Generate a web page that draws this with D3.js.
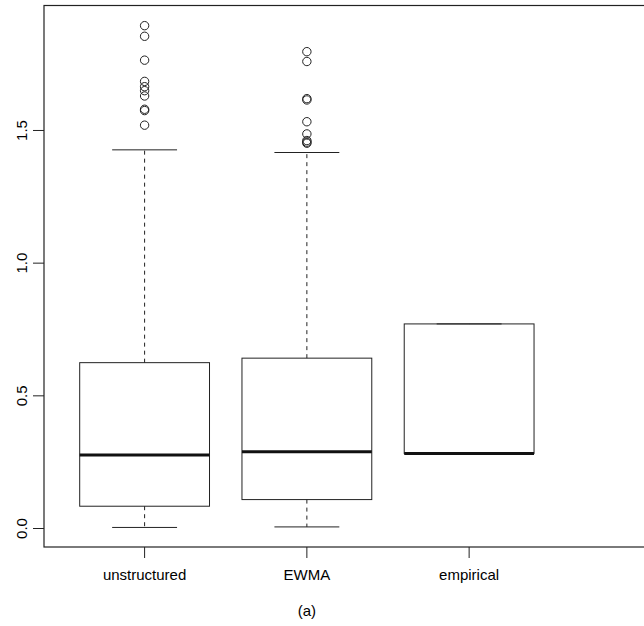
<!DOCTYPE html>
<html lang="en">
<head>
<meta charset="UTF-8">
<title>Boxplot</title>
<script src="https://cdn.jsdelivr.net/npm/d3@7"></script>
<style>
	body{ margin:0; background:#fff; }
	text{ font-family:"Liberation Sans", Arial, sans-serif; fill:#000; }
</style>
</head>
<body>
<svg></svg>
<script>
// categories and box statistics
var categories = ["unstructured", "EWMA", "empirical"];
var whiskerLow = [0.004, 0.006, 0.283];
var q1 = [0.084, 0.109, 0.283];
var medians = [0.277, 0.289, 0.283];
var q3 = [0.625, 0.642, 0.771];
var whiskerHigh = [1.427, 1.417, 0.771];
var outliers = [
	[1.895, 1.855, 1.765, 1.685, 1.665, 1.65, 1.63, 1.58, 1.575, 1.52],
	[1.797, 1.76, 1.62, 1.615, 1.533, 1.487, 1.462, 1.456, 1.452],
	[]
];
var yTicks = [0, 0.5, 1.0, 1.5];
var caption = "(a)";

var w = 644, h = 626;
var svg = d3.select("svg").attr("width", w).attr("height", h);

// plot region continues past the right edge of the picture
var x = d3.scaleLinear().domain([0.38, 4.62]).range([44, 732]);
var y = d3.scaleLinear().domain([-0.0697, 1.971]).range([547, 5.5]);

var boxW = 0.4, capW = 0.2;

svg.append("rect")
	.attr("x", x(0.38)).attr("y", y(1.971))
	.attr("width", x(4.62) - x(0.38)).attr("height", y(-0.0697) - y(1.971))
	.attr("fill", "none").attr("stroke", "#222").attr("stroke-width", 1.2);

// y axis
var yAxis = svg.append("g").attr("transform", "translate(44,0)");
yAxis.selectAll("line").data(yTicks).enter().append("line")
	.attr("x1", -11).attr("x2", 0)
	.attr("y1", d => y(d)).attr("y2", d => y(d))
	.attr("stroke", "#222");
yAxis.selectAll("text").data(yTicks).enter().append("text")
	.attr("transform", d => "translate(-17," + y(d) + ") rotate(-90)")
	.attr("text-anchor", "middle")
	.style("font-size", "15px")
	.text(d => d.toFixed(1));

// x axis
var xAxis = svg.append("g").attr("transform", "translate(0,547)");
xAxis.selectAll("line").data(categories).enter().append("line")
	.attr("x1", (d, i) => x(i + 1)).attr("x2", (d, i) => x(i + 1))
	.attr("y1", 0).attr("y2", 11)
	.attr("stroke", "#222");
xAxis.selectAll("text").data(categories).enter().append("text")
	.attr("x", (d, i) => x(i + 1)).attr("y", 33)
	.attr("text-anchor", "middle")
	.style("font-size", "15px")
	.text(d => d);

svg.append("text")
	.attr("x", x(2)).attr("y", 616)
	.attr("text-anchor", "middle")
	.style("font-size", "15px")
	.text(caption);

var g = svg.selectAll("g.box").data(categories).enter().append("g").attr("class", "box");

// whiskers
g.append("line")
	.attr("x1", (d, i) => x(i + 1)).attr("x2", (d, i) => x(i + 1))
	.attr("y1", (d, i) => y(q3[i])).attr("y2", (d, i) => y(whiskerHigh[i]))
	.attr("stroke", "#222").attr("stroke-dasharray", "4,4");
g.append("line")
	.attr("x1", (d, i) => x(i + 1)).attr("x2", (d, i) => x(i + 1))
	.attr("y1", (d, i) => y(q1[i])).attr("y2", (d, i) => y(whiskerLow[i]))
	.attr("stroke", "#222").attr("stroke-dasharray", "4,4");
[whiskerLow, whiskerHigh].forEach(arr => {
	g.append("line")
		.attr("x1", (d, i) => x(i + 1 - capW)).attr("x2", (d, i) => x(i + 1 + capW))
		.attr("y1", (d, i) => y(arr[i])).attr("y2", (d, i) => y(arr[i]))
		.attr("stroke", "#222");
});

// boxes
g.append("rect")
	.attr("x", (d, i) => x(i + 1 - boxW))
	.attr("width", x(1 + boxW) - x(1 - boxW))
	.attr("y", (d, i) => y(q3[i]))
	.attr("height", (d, i) => y(q1[i]) - y(q3[i]))
	.attr("fill", "none").attr("stroke", "#222");
g.append("line")
	.attr("x1", (d, i) => x(i + 1 - boxW)).attr("x2", (d, i) => x(i + 1 + boxW))
	.attr("y1", (d, i) => y(medians[i])).attr("y2", (d, i) => y(medians[i]))
	.attr("stroke", "#111").attr("stroke-width", 3);

// outliers
g.each(function(d, i) {
	d3.select(this).selectAll("circle").data(outliers[i]).enter().append("circle")
		.attr("cx", x(i + 1)).attr("cy", v => y(v)).attr("r", 4.2)
		.attr("fill", "none").attr("stroke", "#222");
});
</script>
</body>
</html>
